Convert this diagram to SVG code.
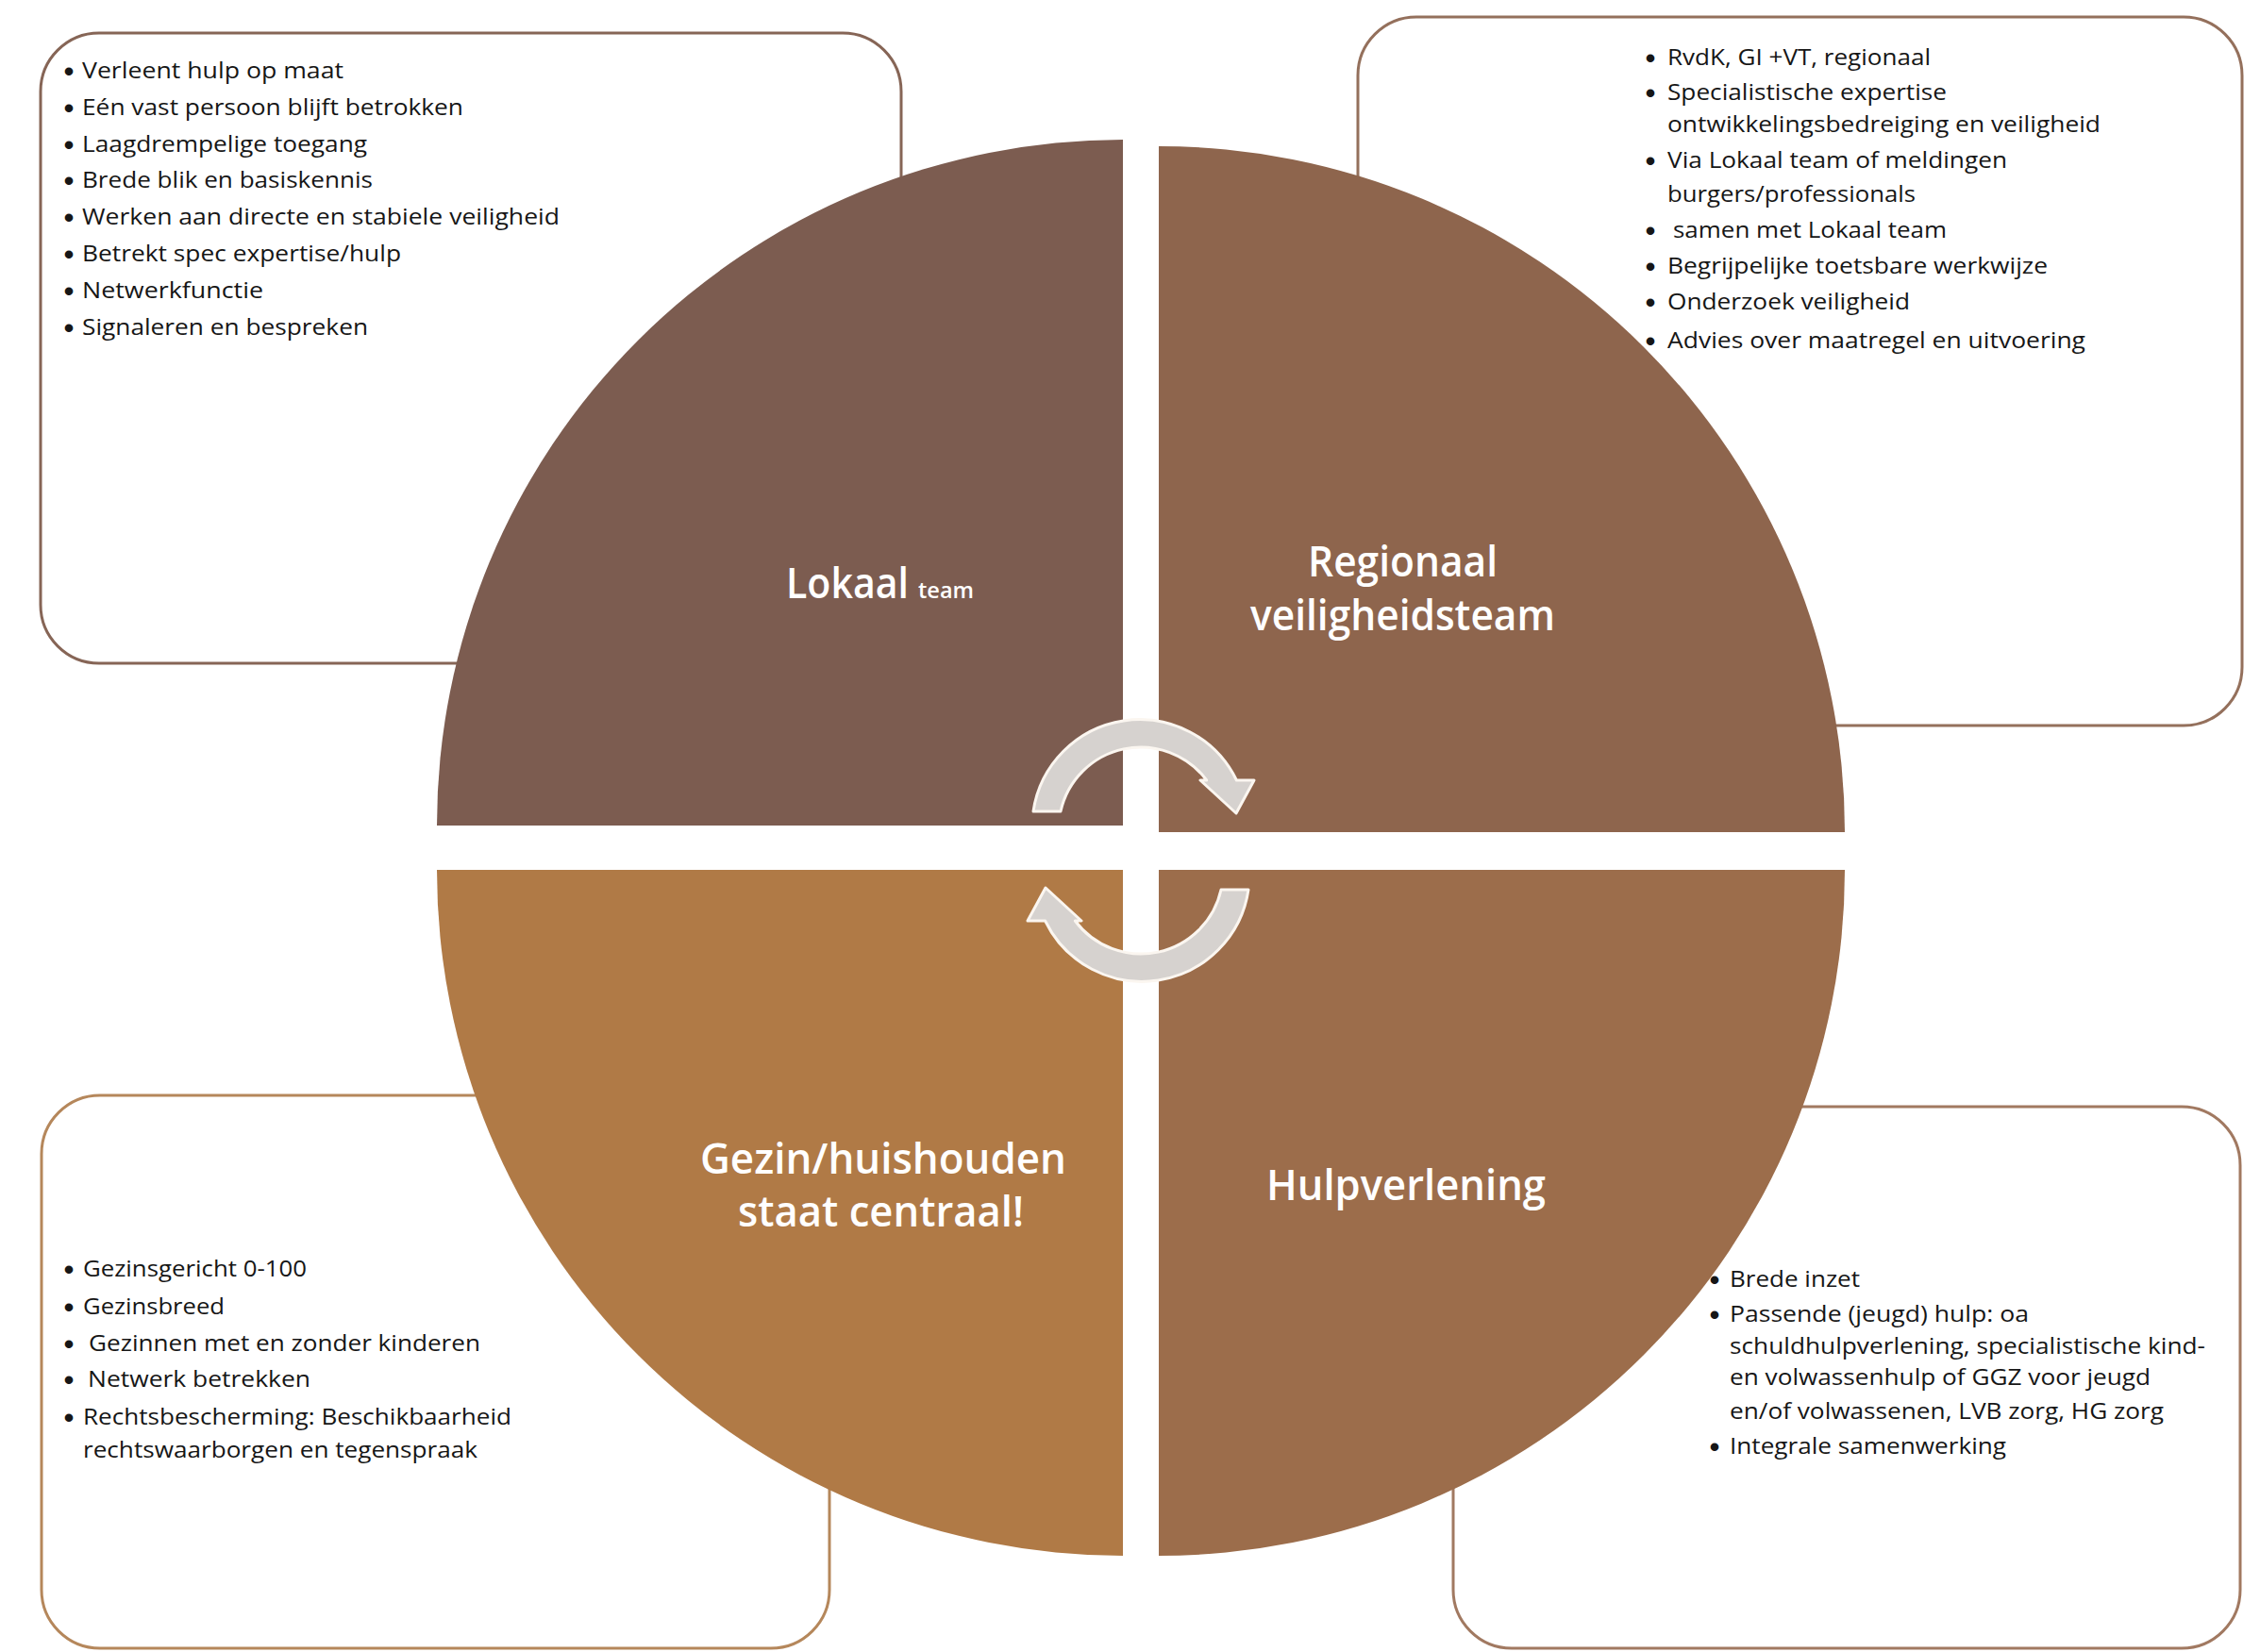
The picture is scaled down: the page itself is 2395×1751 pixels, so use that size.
<svg xmlns="http://www.w3.org/2000/svg" width="2395" height="1751" viewBox="0 0 2395 1751">
<style>
.bx{fill:#ffffff;stroke-width:3}
.t{font-family:"Open Sans","Noto Sans","Liberation Sans",sans-serif;font-size:23px;font-weight:500;fill:#161616}
.b{font-family:"Liberation Sans",Arial,sans-serif;font-size:30px;font-weight:bold;fill:#161616;text-anchor:middle}
.h{font-family:"Open Sans","Noto Sans","Liberation Sans",sans-serif;font-size:45px;font-weight:600;fill:#ffffff}
.hs{font-family:"Open Sans","Noto Sans","Liberation Sans",sans-serif;font-size:24px;font-weight:600;fill:#ffffff}
.arr{fill:#d6d2cf;stroke:#fbf6f0;stroke-width:3;stroke-linejoin:round}
</style>
<defs>
<path id="arrowShape" d="M1095,860 A114,114 0 0 1 1310.4,827 L1329,827 L1310,862 L1272,827 L1278.7,827 A87,87 0 0 0 1124,860 Z"/>
</defs>
<rect width="2395" height="1751" fill="#ffffff"/>

<g id="box-lokaal">
<rect class="bx" x="43" y="35" width="912" height="668" rx="62" ry="62" stroke="#866556"/>
<text class="b" x="73" y="86">•</text><text class="t" x="87" y="83" textLength="277" lengthAdjust="spacingAndGlyphs">Verleent hulp op maat</text>
<text class="b" x="73" y="125">•</text><text class="t" x="87" y="122" textLength="404" lengthAdjust="spacingAndGlyphs">Eén vast persoon blijft betrokken</text>
<text class="b" x="73" y="164">•</text><text class="t" x="87" y="161" textLength="302" lengthAdjust="spacingAndGlyphs">Laagdrempelige toegang</text>
<text class="b" x="73" y="202">•</text><text class="t" x="87" y="199" textLength="308" lengthAdjust="spacingAndGlyphs">Brede blik en basiskennis</text>
<text class="b" x="73" y="241">•</text><text class="t" x="87" y="238" textLength="506" lengthAdjust="spacingAndGlyphs">Werken aan directe en stabiele veiligheid</text>
<text class="b" x="73" y="280">•</text><text class="t" x="87" y="277" textLength="338" lengthAdjust="spacingAndGlyphs">Betrekt spec expertise/hulp</text>
<text class="b" x="73" y="319">•</text><text class="t" x="87" y="316" textLength="192" lengthAdjust="spacingAndGlyphs">Netwerkfunctie</text>
<text class="b" x="73" y="358">•</text><text class="t" x="87" y="355" textLength="303" lengthAdjust="spacingAndGlyphs">Signaleren en bespreken</text>
</g>

<g id="box-regionaal">
<rect class="bx" x="1439" y="18" width="937" height="751" rx="62" ry="62" stroke="#94705c"/>
<text class="b" x="1749" y="72">•</text><text class="t" x="1767" y="69" textLength="279" lengthAdjust="spacingAndGlyphs">RvdK, GI +VT, regionaal</text>
<text class="b" x="1749" y="109">•</text><text class="t" x="1767" y="106" textLength="296" lengthAdjust="spacingAndGlyphs">Specialistische expertise</text>
<text class="t" x="1767" y="140" textLength="459" lengthAdjust="spacingAndGlyphs">ontwikkelingsbedreiging en veiligheid</text>
<text class="b" x="1749" y="181">•</text><text class="t" x="1767" y="178" textLength="360" lengthAdjust="spacingAndGlyphs">Via Lokaal team of meldingen</text>
<text class="t" x="1767" y="214" textLength="263" lengthAdjust="spacingAndGlyphs">burgers/professionals</text>
<text class="b" x="1749" y="255">•</text><text class="t" x="1773" y="252" textLength="290" lengthAdjust="spacingAndGlyphs">samen met Lokaal team</text>
<text class="b" x="1749" y="293">•</text><text class="t" x="1767" y="290" textLength="403" lengthAdjust="spacingAndGlyphs">Begrijpelijke toetsbare werkwijze</text>
<text class="b" x="1749" y="331">•</text><text class="t" x="1767" y="328" textLength="257" lengthAdjust="spacingAndGlyphs">Onderzoek veiligheid</text>
<text class="b" x="1749" y="372">•</text><text class="t" x="1767" y="369" textLength="443" lengthAdjust="spacingAndGlyphs">Advies over maatregel en uitvoering</text>
</g>

<g id="box-gezin">
<rect class="bx" x="44" y="1161" width="835" height="586" rx="62" ry="62" stroke="#b5875b"/>
<text class="b" x="73" y="1356">•</text><text class="t" x="88" y="1353" textLength="237" lengthAdjust="spacingAndGlyphs">Gezinsgericht 0-100</text>
<text class="b" x="73" y="1396">•</text><text class="t" x="88" y="1393" textLength="150" lengthAdjust="spacingAndGlyphs">Gezinsbreed</text>
<text class="b" x="73" y="1435">•</text><text class="t" x="94" y="1432" textLength="415" lengthAdjust="spacingAndGlyphs">Gezinnen met en zonder kinderen</text>
<text class="b" x="73" y="1473">•</text><text class="t" x="93" y="1470" textLength="236" lengthAdjust="spacingAndGlyphs">Netwerk betrekken</text>
<text class="b" x="73" y="1513">•</text><text class="t" x="88" y="1510" textLength="454" lengthAdjust="spacingAndGlyphs">Rechtsbescherming: Beschikbaarheid</text>
<text class="t" x="88" y="1545" textLength="418" lengthAdjust="spacingAndGlyphs">rechtswaarborgen en tegenspraak</text>
</g>

<g id="box-hulp">
<rect class="bx" x="1540" y="1173" width="834" height="574" rx="62" ry="62" stroke="#a17961"/>
<text class="b" x="1817" y="1367">•</text><text class="t" x="1833" y="1364" textLength="138" lengthAdjust="spacingAndGlyphs">Brede inzet</text>
<text class="b" x="1817" y="1404">•</text><text class="t" x="1833" y="1401" textLength="317" lengthAdjust="spacingAndGlyphs">Passende (jeugd) hulp: oa</text>
<text class="t" x="1833" y="1435" textLength="504" lengthAdjust="spacingAndGlyphs">schuldhulpverlening, specialistische kind-</text>
<text class="t" x="1833" y="1468" textLength="446" lengthAdjust="spacingAndGlyphs">en volwassenhulp of GGZ voor jeugd</text>
<text class="t" x="1833" y="1504" textLength="460" lengthAdjust="spacingAndGlyphs">en/of volwassenen, LVB zorg, HG zorg</text>
<text class="b" x="1817" y="1544">•</text><text class="t" x="1833" y="1541" textLength="293" lengthAdjust="spacingAndGlyphs">Integrale samenwerking</text>
</g>

<g id="quad-lokaal">
<path d="M1190,875 L463,875 A727,727 0 0 1 1190,148 Z" fill="#7c5c50"/>
<text class="h" x="833" y="634" textLength="130" lengthAdjust="spacingAndGlyphs">Lokaal</text>
<text class="hs" x="973" y="634" textLength="59" lengthAdjust="spacingAndGlyphs">team</text>
</g>

<g id="quad-regionaal">
<path d="M1228,882 L1228,155 A727,727 0 0 1 1955,882 Z" fill="#8e654d"/>
<text class="h" x="1386" y="611" textLength="201" lengthAdjust="spacingAndGlyphs">Regionaal</text>
<text class="h" x="1325" y="668" textLength="323" lengthAdjust="spacingAndGlyphs">veiligheidsteam</text>
</g>

<g id="quad-hulp">
<path d="M1228,922 L1955,922 A727,727 0 0 1 1228,1649 Z" fill="#9c6d4b"/>
<text class="h" x="1342" y="1272" textLength="296" lengthAdjust="spacingAndGlyphs">Hulpverlening</text>
</g>

<g id="quad-gezin">
<path d="M1190,922 L1190,1649 A727,727 0 0 1 463,922 Z" fill="#b07a46"/>
<text class="h" x="742" y="1244" textLength="388" lengthAdjust="spacingAndGlyphs">Gezin/huishouden</text>
<text class="h" x="782" y="1300" textLength="303" lengthAdjust="spacingAndGlyphs">staat centraal!</text>
</g>

<g id="connectors">
<use href="#arrowShape" class="arr"/>
<use href="#arrowShape" class="arr" transform="rotate(180 1209 901.5)"/>
</g>
</svg>
